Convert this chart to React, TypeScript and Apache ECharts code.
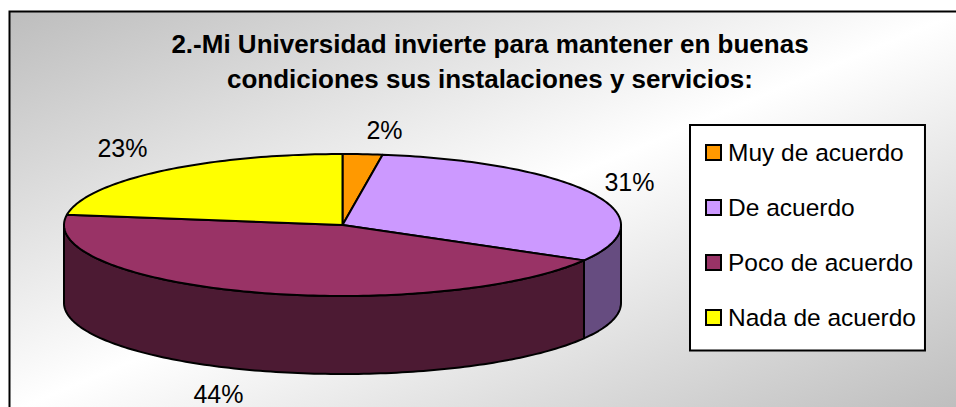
import React, { useEffect, useRef } from "react";
import * as echarts from "echarts";

const categories = ["Muy de acuerdo", "De acuerdo", "Poco de acuerdo", "Nada de acuerdo"];
const sliceValues = [2.3, 31, 44, 22.7];
const topColors = ["#FF9900", "#CC99FF", "#993366", "#FFFF00"];
const sideColors = ["#804D00", "#664C80", "#4C1A33", "#808000"];
const titleText = "2.-Mi Universidad invierte para mantener en buenas\ncondiciones sus instalaciones y servicios:";
const labelOffsets = [[384 - 342, 130 - 225], [629 - 342, 182 - 225], [218 - 342, 394 - 225], [122 - 342, 148 - 225]];

const CX = 342.5, CY = 225, RX = 278.5, RY = 71, DEPTH = 78;
const total = sliceValues.reduce((a, b) => a + b, 0);

const pt = (t: number, dy = 0): [number, number] => [CX + RX * Math.sin(t), CY + dy - RY * Math.cos(t)];

function arcPoints(a: number, b: number, dy = 0) {
  const n = Math.max(2, Math.ceil((b - a) / 0.02));
  const out: [number, number][] = [];
  for (let i = 0; i <= n; i++) out.push(pt(a + ((b - a) * i) / n, dy));
  return out;
}

function makeRender(index: number) {
  return (_params: any, api: any) => {
    const start = sliceValues.slice(0, index).reduce((a, b) => a + b, 0);
    const value = api.value(0);
    const a0 = (start / total) * Math.PI * 2;
    const a1 = ((start + value) / total) * Math.PI * 2;
    const children: any[] = [];
    const sa = Math.max(a0, Math.PI / 2);
    const sb = Math.min(a1, (Math.PI * 3) / 2);
    const lineStyle = { stroke: "#000", lineWidth: 2, lineJoin: "round" };
    if (sb > sa) {
      children.push({
        type: "polygon",
        shape: { points: [...arcPoints(sa, sb), ...arcPoints(sa, sb, DEPTH).reverse()] },
        style: { fill: sideColors[index], ...lineStyle },
      });
    }
    children.push({
      type: "polygon",
      shape: { points: [[CX, CY], ...arcPoints(a0, a1)] },
      style: { fill: topColors[index], ...lineStyle },
    });
    children.push({
      type: "text",
      style: {
        text: `${Math.round((value / total) * 100)}%`,
        x: CX + labelOffsets[index][0],
        y: CY + labelOffsets[index][1],
        align: "center",
        verticalAlign: "middle",
        fill: "#000",
        font: "25px 'Liberation Sans'",
      },
    });
    return { type: "group", children };
  };
}

export default function App() {
  const ref = useRef<HTMLDivElement>(null);
  useEffect(() => {
    const chart = echarts.init(ref.current!, undefined, { renderer: "svg" });
    chart.setOption({
      animation: false,
      graphic: [
        {
          type: "rect",
          z: -10,
          shape: { x: 9.5, y: 11.5, width: 952, height: 401 },
          style: {
            stroke: "#000",
            lineWidth: 2,
            fill: new echarts.graphic.LinearGradient(0, 0, 1, 1, [
              { offset: 0, color: "#BDBDBD" },
              { offset: 0.5, color: "#FFFFFF" },
              { offset: 1, color: "#BDBDBD" },
            ]),
          },
        },
      ],
      title: {
        text: titleText,
        left: 485,
        top: 21,
        textAlign: "center",
        textStyle: { fontFamily: "Liberation Sans", fontWeight: "bold", fontSize: 26, lineHeight: 35, color: "#000" },
      },
      legend: {
        orient: "vertical",
        left: 690,
        top: 125,
        padding: [15, 9, 20.5, 15],
        itemWidth: 15,
        itemHeight: 15,
        itemGap: 30,
        data: categories,
        backgroundColor: "#fff",
        borderColor: "#000",
        borderWidth: 2,
        icon: "rect",
        selectedMode: false,
        itemStyle: { borderColor: "#000", borderWidth: 2 },
        textStyle: { fontFamily: "Liberation Sans", fontSize: 24.5, color: "#000", padding: [0, 0, 0, 2] },
      },
      tooltip: { show: false },
      series: categories.map((name, i) => ({
        type: "custom",
        name,
        coordinateSystem: "none",
        color: topColors[i],
        renderItem: makeRender(i),
        data: [[sliceValues[i]]],
        silent: true,
      })),
    });
    return () => chart.dispose();
  }, []);
  return <div ref={ref} style={{ position: "absolute", left: 0, top: 0, width: 956, height: 407 }} />;
}
